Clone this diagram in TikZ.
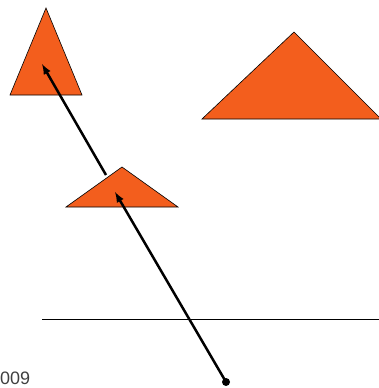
\documentclass[tikz,border=0pt]{standalone}
\usepackage{fontspec}
\setmainfont{Liberation Sans}
\usepackage{xcolor}
\usetikzlibrary{arrows}
\definecolor{myorange}{RGB}{243,94,29}

\begin{document}
\begin{tikzpicture}[x=1pt,y=-1pt]
\tikzset{tri/.style={fill=myorange,draw=black,line width=0.6}}
\useasboundingbox (0,0) rectangle (379,388);

% triangles
\draw[tri] (46,8) -- (82,95) -- (10,95) -- cycle;
\draw[tri] (122,167) -- (178,207) -- (66,207) -- cycle;
\draw[tri] (294,32) -- (381,119) -- (202,119) -- cycle;

% ground line
\draw[line width=0.8] (42,319) -- (381,319);

% viewer and rays
\coordinate (eye) at (226,382);
\coordinate (hitb) at (115,192);
\coordinate (lifta) at (106,175);
\coordinate (hita) at (42,64);
\fill (eye) circle(4);
\draw[line width=2.5,-latex] (eye) -- (hitb);
\draw[line width=2.5,-latex] (lifta) -- (hita);

\node[anchor=base west,inner sep=0,font=\fontsize{18}{18}\selectfont,text=black!75] (year) at (0,384) {009};

\end{tikzpicture}
\end{document}
